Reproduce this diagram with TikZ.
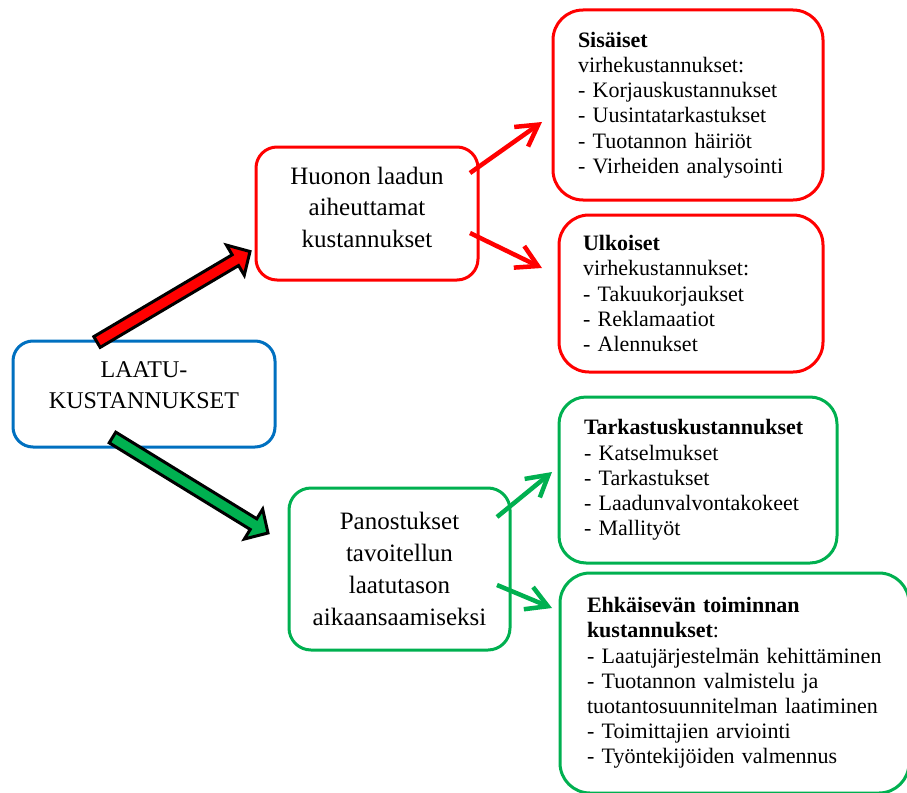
\documentclass[tikz,border=0pt]{standalone}
\usepackage{fontspec}
\setmainfont{Liberation Serif}
\usetikzlibrary{arrows.meta,calc}

\definecolor{costred}{RGB}{255,0,0}
\definecolor{costblue}{RGB}{0,112,192}
\definecolor{costgreen}{RGB}{0,176,80}

\tikzset{
  mainbox/.style={draw, line width=3pt, fill=white, inner sep=0pt, align=center,
    font=\fontsize{25}{31.5}\selectfont},
  subbox/.style={draw, line width=3pt, fill=white, inner ysep=0pt, align=left,
    font=\fontsize{22}{25.2}\selectfont},
  blockarr/.style={draw=black, line width=3pt, line join=miter},
  thinarr/.style={line width=4.5pt, -{Straight Barb[length=21pt,width=24pt]}},
}

\begin{document}
\begin{tikzpicture}[x=1pt,y=-1pt]
\useasboundingbox (0,0) rectangle (907,792);

% --- boxes -------------------------------------------------------------
\node[mainbox, draw=costblue, rounded corners=20pt, minimum width=262pt,
      minimum height=106pt, font=\fontsize{24}{31}\selectfont]
      (laatu) at (144,394) {LAATU-\\KUSTANNUKSET\\[-13pt]\mbox{}};

\node[mainbox, draw=costred, rounded corners=21pt, minimum width=222pt,
      minimum height=133pt]
      (huonon) at (367,213.5) {Huonon laadun\\aiheuttamat\\kustannukset\\[-18.5pt]\mbox{}};

\node[mainbox, draw=costgreen, rounded corners=22pt, minimum width=221pt,
      minimum height=162pt, font=\fontsize{25}{32}\selectfont]
      (panos) at (399.5,569) {Panostukset\\tavoitellun\\laatutason\\aikaansaamiseksi};

\node[subbox, draw=costred, rounded corners=30pt, minimum width=270pt,
      minimum height=190pt, inner xsep=25pt, text width=220pt]
      (sisa) at (688,105)
      {\textbf{Sisäiset}\\virhekustannukset:\\- Korjauskustannukset\\- Uusintatarkastukset\\- Tuotannon häiriöt\\- Virheiden analysointi};

\node[subbox, draw=costred, rounded corners=30pt, minimum width=264pt,
      minimum height=157pt, inner xsep=24pt, text width=216pt]
      (ulko) at (691,293.5)
      {\textbf{Ulkoiset}\\virhekustannukset:\\- Takuukorjaukset\\- Reklamaatiot\\- Alennukset};

\node[subbox, draw=costgreen, rounded corners=27pt, minimum width=278pt,
      minimum height=166pt, inner xsep=25pt, text width=228pt]
      (tark) at (698,480)
      {\textbf{Tarkastuskustannukset}\\- Katselmukset\\- Tarkastukset\\- Laadunvalvontakokeet\\- Mallityöt};

\node[subbox, draw=costgreen, rounded corners=30pt, minimum width=349pt,
      minimum height=220pt, inner xsep=27pt, text width=295pt]
      (ehka) at (734.5,683)
      {\textbf{Ehkäisevän toiminnan}\\\textbf{kustannukset}:\\- Laatujärjestelmän kehittäminen\\- Tuotannon valmistelu ja\\tuotantosuunnitelman laatiminen\\- Toimittajien arviointi\\- Työntekijöiden valmennus};

% --- block arrows from the main box ------------------------------------
\coordinate (redtail) at (97,342);
\coordinate (redtip)  at (250,251.5);
\coordinate (redbase) at ($(redtip)!17pt!(redtail)$);
\draw[blockarr, fill=costred]
  ($(redtail)!6.25pt!90:(redtip)$) -- ($(redbase)!6.25pt!90:(redtip)$)
  -- ($(redbase)!17.5pt!90:(redtip)$) -- (redtip)
  -- ($(redbase)!17.5pt!-90:(redtip)$) -- ($(redbase)!6.25pt!-90:(redtip)$)
  -- ($(redtail)!6.25pt!-90:(redtip)$) -- cycle;

\coordinate (greentail) at (112.5,437.5);
\coordinate (greentip)  at (268,533);
\coordinate (greenbase) at ($(greentip)!17pt!(greentail)$);
\draw[blockarr, fill=costgreen]
  ($(greentail)!6.25pt!90:(greentip)$) -- ($(greenbase)!6.25pt!90:(greentip)$)
  -- ($(greenbase)!17.5pt!90:(greentip)$) -- (greentip)
  -- ($(greenbase)!17.5pt!-90:(greentip)$) -- ($(greenbase)!6.25pt!-90:(greentip)$)
  -- ($(greentail)!6.25pt!-90:(greentip)$) -- cycle;

% --- thin arrows to the detail boxes -----------------------------------
\coordinate (sisaS) at (470,173);   \coordinate (sisaE) at (542,122);
\coordinate (ulkoS) at (470,233);   \coordinate (ulkoE) at (542,268);
\coordinate (tarkS) at (497,517);   \coordinate (tarkE) at (552,472);
\coordinate (ehkaS) at (497,585);   \coordinate (ehkaE) at (552,608);

\draw[thinarr, costred]   (sisaS) -- (sisaE);
\draw[thinarr, costred]   (ulkoS) -- (ulkoE);
\draw[thinarr, costgreen] (tarkS) -- (tarkE);
\draw[thinarr, costgreen] (ehkaS) -- (ehkaE);
\end{tikzpicture}
\end{document}
